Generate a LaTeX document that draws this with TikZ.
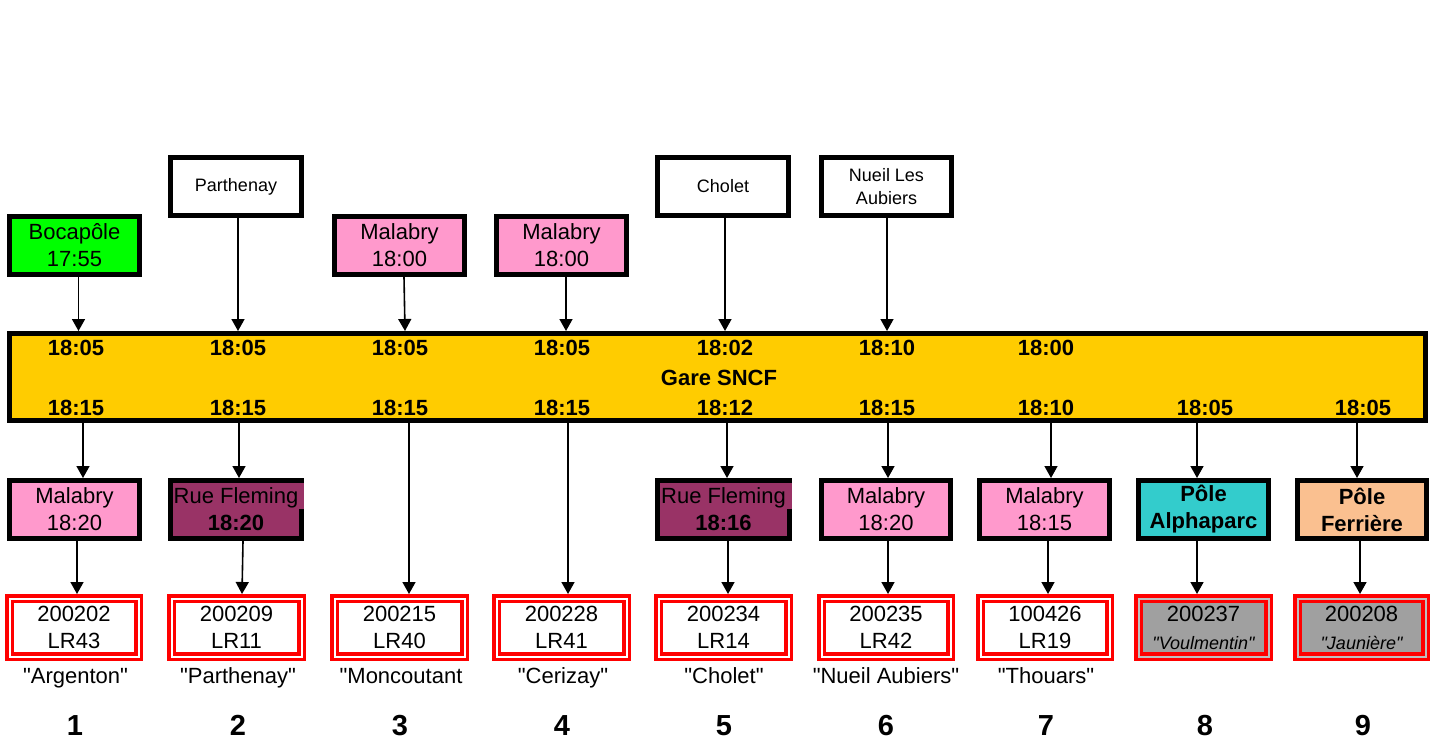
\documentclass[tikz,border=0pt]{standalone}
\usepackage{fontspec}
\setmainfont{Liberation Sans}[Ligatures=TeXOff]
\usetikzlibrary{arrows.meta}
\definecolor{cgreen}{HTML}{00FF00}
\definecolor{cpink}{HTML}{FF99CC}
\definecolor{cplum}{HTML}{993366}
\definecolor{cgold}{HTML}{FFCC00}
\definecolor{cteal}{HTML}{33CCCC}
\definecolor{cpeach}{HTML}{FAC090}
\definecolor{cgray}{HTML}{A0A0A0}
\definecolor{cred}{HTML}{FF0000}
\begin{document}
\begin{tikzpicture}[x=1pt,y=-1pt,
  fbig/.style={font=\fontsize{22}{27}\selectfont},
  fsmall/.style={font=\fontsize{18}{23}\selectfont},
  fbold/.style={font=\fontsize{22}{27}\selectfont\bfseries},
  fnum/.style={font=\fontsize{29}{30}\selectfont\bfseries},
  box/.style={draw=black, line width=5pt, inner sep=0pt, minimum height=58pt, align=center},
  redbox/.style={draw=cred, double=white, double distance=2pt, line width=3.5pt, outer sep=4.5pt,
    inner sep=0pt, minimum height=58pt, minimum width=129pt, align=center, fbig},
  bartext/.style={inner sep=0pt, fbold},
  caption/.style={inner sep=0pt, anchor=base, fbig},
  numlabel/.style={inner sep=0pt, anchor=base, fnum},
  arr/.style={-{Triangle[width=13pt,length=12pt]}, line width=1.6pt}]
\useasboundingbox (0,0) rectangle (1431,738);
\fill[white] (0,0) rectangle (1431,738);

% central bar
\node[box, fill=cgold, minimum width=1416pt, minimum height=86.5pt] (bar) at (717.5,376.75) {};
\foreach \x/\t [count=\i] in {76/18:05,238/18:05,400/18:05,562/18:05,725/18:02,887/18:10,1046/18:00}
  \node[bartext] (tt\i) at (\x,348) {\t};
\foreach \x/\t [count=\i] in {76/18:15,238/18:15,400/18:15,562/18:15,725/18:12,887/18:15,1046/18:10,1205/18:05,1363/18:05}
  \node[bartext] (tb\i) at (\x,408) {\t};
\node[bartext] (gare) at (719,378) {Gare SNCF};

% top boxes
\node[box, fbig, fill=cgreen, minimum width=130pt] (T1) at (74.5,245.5) {Bocapôle\\17:55};
\node[box, fsmall, fill=white, minimum width=131pt] (T2) at (236,186.5) {Parthenay};
\node[box, fbig, fill=cpink, minimum width=130pt] (T3) at (399.5,245.5) {Malabry\\18:00};
\node[box, fbig, fill=cpink, minimum width=130pt] (T4) at (561.5,245.5) {Malabry\\18:00};
\node[box, fsmall, fill=white, minimum width=131pt] (T5) at (723,186.5) {Cholet};
\node[box, fsmall, fill=white, minimum width=130pt] (T6) at (886.5,186.5) {Nueil Les\\Aubiers};

\draw[arr] ([xshift=4pt]T1.south) -- ([xshift=4pt]T1.south |- bar.north);
\draw[arr] ([xshift=2pt]T2.south) -- ([xshift=2pt]T2.south |- bar.north);
\draw[arr] ([xshift=4.5pt]T3.south) -- ([xshift=5.5pt]T3.south |- bar.north);
\draw[arr] ([xshift=4.5pt]T4.south) -- ([xshift=4.5pt]T4.south |- bar.north);
\draw[arr] ([xshift=2pt]T5.south) -- ([xshift=2pt]T5.south |- bar.north);
\draw[arr] ([xshift=0.5pt]T6.south) -- ([xshift=0.5pt]T6.south |- bar.north);

% middle boxes
\node[box, fbig, fill=cpink, minimum width=130pt] (M1) at (74.5,509.5) {Malabry\\18:20};
\node[box, fbig, fill=cplum, minimum width=131pt] (M2) at (236,509.5) {Rue Fleming\\\textbf{18:20}};
\node[box, fbig, fill=cplum, minimum width=132pt] (M5) at (723.5,509.5) {Rue Fleming\\\textbf{18:16}};
\node[box, fbig, fill=cpink, minimum width=129pt] (M6) at (886,509.5) {Malabry\\18:20};
\node[box, fbig, fill=cpink, minimum width=130pt] (M7) at (1044.5,509.5) {Malabry\\18:15};
\node[box, fbold, fill=cteal, minimum width=130pt] (M8) at (1203.5,509.5) {Pôle\\Alphaparc};
\node[box, fbold, fill=cpeach, minimum width=129pt] (M9) at (1362,509.5) {Pôle\\Ferrière};
\fill[cplum] (299,483) rectangle (304,509);
\fill[cplum] (787,483) rectangle (792,509);

% bottom boxes
\node[redbox, minimum width=129pt] (B1) at (74,627.5) {200202\\LR43};
\node[redbox, minimum width=130pt] (B2) at (236.5,627.5) {200209\\LR11};
\node[redbox, minimum width=130pt] (B3) at (399.5,627.5) {200215\\LR40};
\node[redbox, minimum width=130pt] (B4) at (561.5,627.5) {200228\\LR41};
\node[redbox, minimum width=130pt] (B5) at (723.5,627.5) {200234\\LR14};
\node[redbox, minimum width=129pt] (B6) at (886,627.5) {200235\\LR42};
\node[redbox, minimum width=129pt] (B7) at (1045,627.5) {100426\\LR19};
\node[redbox, fill=cgray, double=lightgray, minimum width=130pt] (B8) at (1203.5,627.5) {200237\\[1pt]{\fontsize{18}{23}\selectfont\itshape "Voulmentin"}};
\node[redbox, fill=cgray, double=lightgray, minimum width=128pt] (B9) at (1361.5,627.5) {200208\\[1pt]{\fontsize{18}{23}\selectfont\itshape "Jaunière"}};

% bar to middle / bottom
\draw[arr] ([xshift=8.5pt]M1.north |- bar.south) -- ([xshift=8.5pt]M1.north);
\draw[arr] ([xshift=3pt]M2.north |- bar.south) -- ([xshift=3pt]M2.north);
\draw[arr] ([xshift=9.5pt]B3.north |- bar.south) -- ([xshift=9.5pt]B3.north);
\draw[arr] ([xshift=6.5pt]B4.north |- bar.south) -- ([xshift=6.5pt]B4.north);
\draw[arr] ([xshift=3.5pt]M5.north |- bar.south) -- ([xshift=3.5pt]M5.north);
\draw[arr] ([xshift=2pt]M6.north |- bar.south) -- ([xshift=2pt]M6.north);
\draw[arr] ([xshift=6.5pt]M7.north |- bar.south) -- ([xshift=6.5pt]M7.north);
\draw[arr] ([xshift=-6.5pt]M8.north |- bar.south) -- ([xshift=-6.5pt]M8.north);
\draw[arr] ([xshift=-5pt]M9.north |- bar.south) -- ([xshift=-5pt]M9.north);

% middle to bottom
\draw[arr] ([xshift=2.5pt]M1.south) -- ([xshift=3pt]B1.north);
\draw[arr] ([xshift=7pt]M2.south) -- ([xshift=5.5pt]B2.north);
\draw[arr] ([xshift=4.5pt]M5.south) -- ([xshift=4.5pt]B5.north);
\draw[arr] ([xshift=2pt]M6.south) -- ([xshift=2pt]B6.north);
\draw[arr] ([xshift=3.5pt]M7.south) -- ([xshift=3pt]B7.north);
\draw[arr] ([xshift=-6.5pt]M8.south) -- ([xshift=-6.5pt]B8.north);
\draw[arr] ([xshift=-2pt]M9.south) -- ([xshift=-1.5pt]B9.north);

% captions
\node[caption] (c1) at (75.5,683) {"Argenton"};
\node[caption] (c2) at (238,683) {"Parthenay"};
\node[caption] (c3) at (401,683) {"Moncoutant};
\node[caption] (c4) at (563,683) {"Cerizay"};
\node[caption] (c5) at (724,683) {"Cholet"};
\node[caption] (c6) at (886,683) {"Nueil Aubiers"};
\node[caption] (c7) at (1046,683) {"Thouars"};

% numbers
\foreach \x [count=\i] in {75,238,400,562,724,886,1046,1205,1363}
  \node[numlabel] (n\i) at (\x,735) {\i};
\end{tikzpicture}
\end{document}
